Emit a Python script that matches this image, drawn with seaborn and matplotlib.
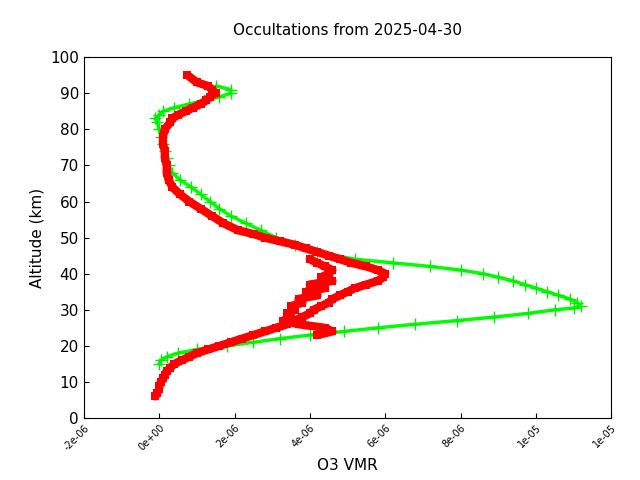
import numpy as np
import pandas as pd
import matplotlib
matplotlib.use("Agg")
import matplotlib.pyplot as plt
import seaborn as sns

# O3 VMR profiles (values in units of 1e-6)
green_alt = [92, 91, 90, 89, 88, 87, 86, 85, 84, 83, 82, 80, 78, 76, 74, 72, 70, 68, 66, 64,
             62, 60, 58, 56, 54, 52, 50, 48, 46, 44, 43, 42, 41, 40, 39, 38, 37, 36, 35, 34,
             33, 32, 31, 30.5, 30, 29, 28, 27, 26, 25, 24, 23, 22, 21, 20, 19, 18, 17, 16, 15]
green_vmr = [1.5, 1.9, 1.9, 1.6, 1.2, 0.8, 0.4, 0.1, 0.0, -0.1, -0.05, 0.0, 0.05, 0.1, 0.15, 0.2, 0.25, 0.35, 0.55, 0.85,
             1.1, 1.35, 1.6, 1.9, 2.3, 2.7, 3.1, 3.6, 4.2, 5.2, 6.2, 7.2, 8.0, 8.6, 9.0, 9.4, 9.7, 10.0, 10.3, 10.6,
             10.9, 11.1, 11.2, 11.0, 10.5, 9.8, 8.9, 7.9, 6.8, 5.8, 4.9, 4.0, 3.2, 2.5, 1.8, 1.0, 0.5, 0.2, 0.05, 0.0]

red_alt = [95, 93, 92, 91, 90, 89, 88, 87, 86, 85, 84, 83, 82, 80, 78, 76, 74, 72, 70, 68,
           66, 64, 62, 60, 58, 56, 54, 52, 51, 50, 49, 48, 47, 46, 45, 44, 43, 42, 41, 40,
           39, 38, 37, 36, 35, 34, 33, 32, 31, 30, 29, 28, 27, 26, 25, 24, 23, 22, 21, 20,
           19, 18, 17, 16, 15, 14, 13, 12, 11, 10, 9, 8, 7, 6]
red_vmr = [0.75, 1.0, 1.3, 1.4, 1.5, 1.35, 1.25, 1.1, 0.9, 0.7, 0.5, 0.35, 0.3, 0.15, 0.1, 0.1, 0.15, 0.15, 0.2, 0.2,
           0.25, 0.35, 0.55, 0.8, 1.1, 1.4, 1.7, 2.1, 2.5, 2.8, 3.2, 3.6, 3.9, 4.2, 4.5, 4.8, 5.1, 5.5, 5.8, 6.0,
           5.95, 5.8, 5.5, 5.2, 5.0, 4.8, 4.6, 4.5, 4.3, 4.1, 4.0, 3.8, 3.6, 3.4, 3.1, 2.8, 2.5, 2.2, 1.9, 1.6,
           1.3, 1.0, 0.8, 0.6, 0.4, 0.3, 0.2, 0.15, 0.1, 0.05, 0.0, 0.0, -0.05, -0.1]

# second, scattered red profile in the stratosphere
red2_alt = [44, 43, 42, 41, 40, 39, 38, 37, 36, 35, 34, 33, 32, 31, 30, 29, 28, 27, 26, 25, 24, 23]
red2_vmr = [4.0, 4.2, 4.4, 4.6, 4.5, 4.3, 4.6, 4.0, 4.4, 3.9, 4.2, 3.7, 3.8, 3.5, 3.6, 3.4, 3.5, 3.3, 3.7, 4.4, 4.6, 4.2]

x_ticks = [-2e-6, 0, 2e-6, 4e-6, 6e-6, 8e-6, 1e-5, 1.2e-5]
x_tick_labels = ["-2e-06", "0e+00", "2e-06", "4e-06", "6e-06", "8e-06", "1e-05", "1e-05"]

plt.rcParams["font.family"] = "Liberation Sans"
sns.set_style("ticks")
plt.rcParams["text.color"] = "black"
plt.rcParams["axes.labelcolor"] = "black"
plt.rcParams["xtick.color"] = "black"
plt.rcParams["ytick.color"] = "black"

green = pd.DataFrame({"alt": green_alt, "vmr": np.array(green_vmr) * 1e-6})
red1 = pd.DataFrame({"alt": red_alt, "vmr": np.array(red_vmr) * 1e-6})
red2 = pd.DataFrame({"alt": red2_alt, "vmr": np.array(red2_vmr) * 1e-6})

fig = plt.figure(figsize=(6.4, 4.8), dpi=100)
ax = fig.add_axes([0.131, 0.129, 0.824, 0.752])

# dense marker trails: connect the points with a thick line of the same colour
sns.lineplot(data=green, x="vmr", y="alt", ax=ax, sort=False, estimator=None,
             color="#00ff00", linewidth=2.5, marker="+", markersize=8,
             markeredgewidth=1, markeredgecolor="#00ee00", zorder=2)
for df in (red1, red2):
    sns.lineplot(data=df, x="vmr", y="alt", ax=ax, sort=False, estimator=None,
                 color="#ff0000", linewidth=6, marker="s", markersize=6,
                 markeredgewidth=0, zorder=3)

ax.set_xlim(-2e-6, 1.2e-5)
ax.set_ylim(0, 100)
ax.set_xticks(x_ticks)
ax.set_xticklabels(x_tick_labels, rotation=45, ha="right", rotation_mode="anchor", fontsize=7)
ax.set_yticks(range(0, 101, 10))
ax.tick_params(axis="y", labelsize=11, direction="in")
ax.tick_params(axis="x", direction="in")
ax.set_xlabel("O3 VMR", fontsize=11)
ax.set_ylabel("Altitude (km)", fontsize=11)
ax.set_title("Occultations from 2025-04-30", fontsize=11, pad=16)
for s in ax.spines.values():
    s.set_visible(True)
    s.set_linewidth(0.8)
    s.set_color("black")

fig.savefig("out.png", dpi=100)
